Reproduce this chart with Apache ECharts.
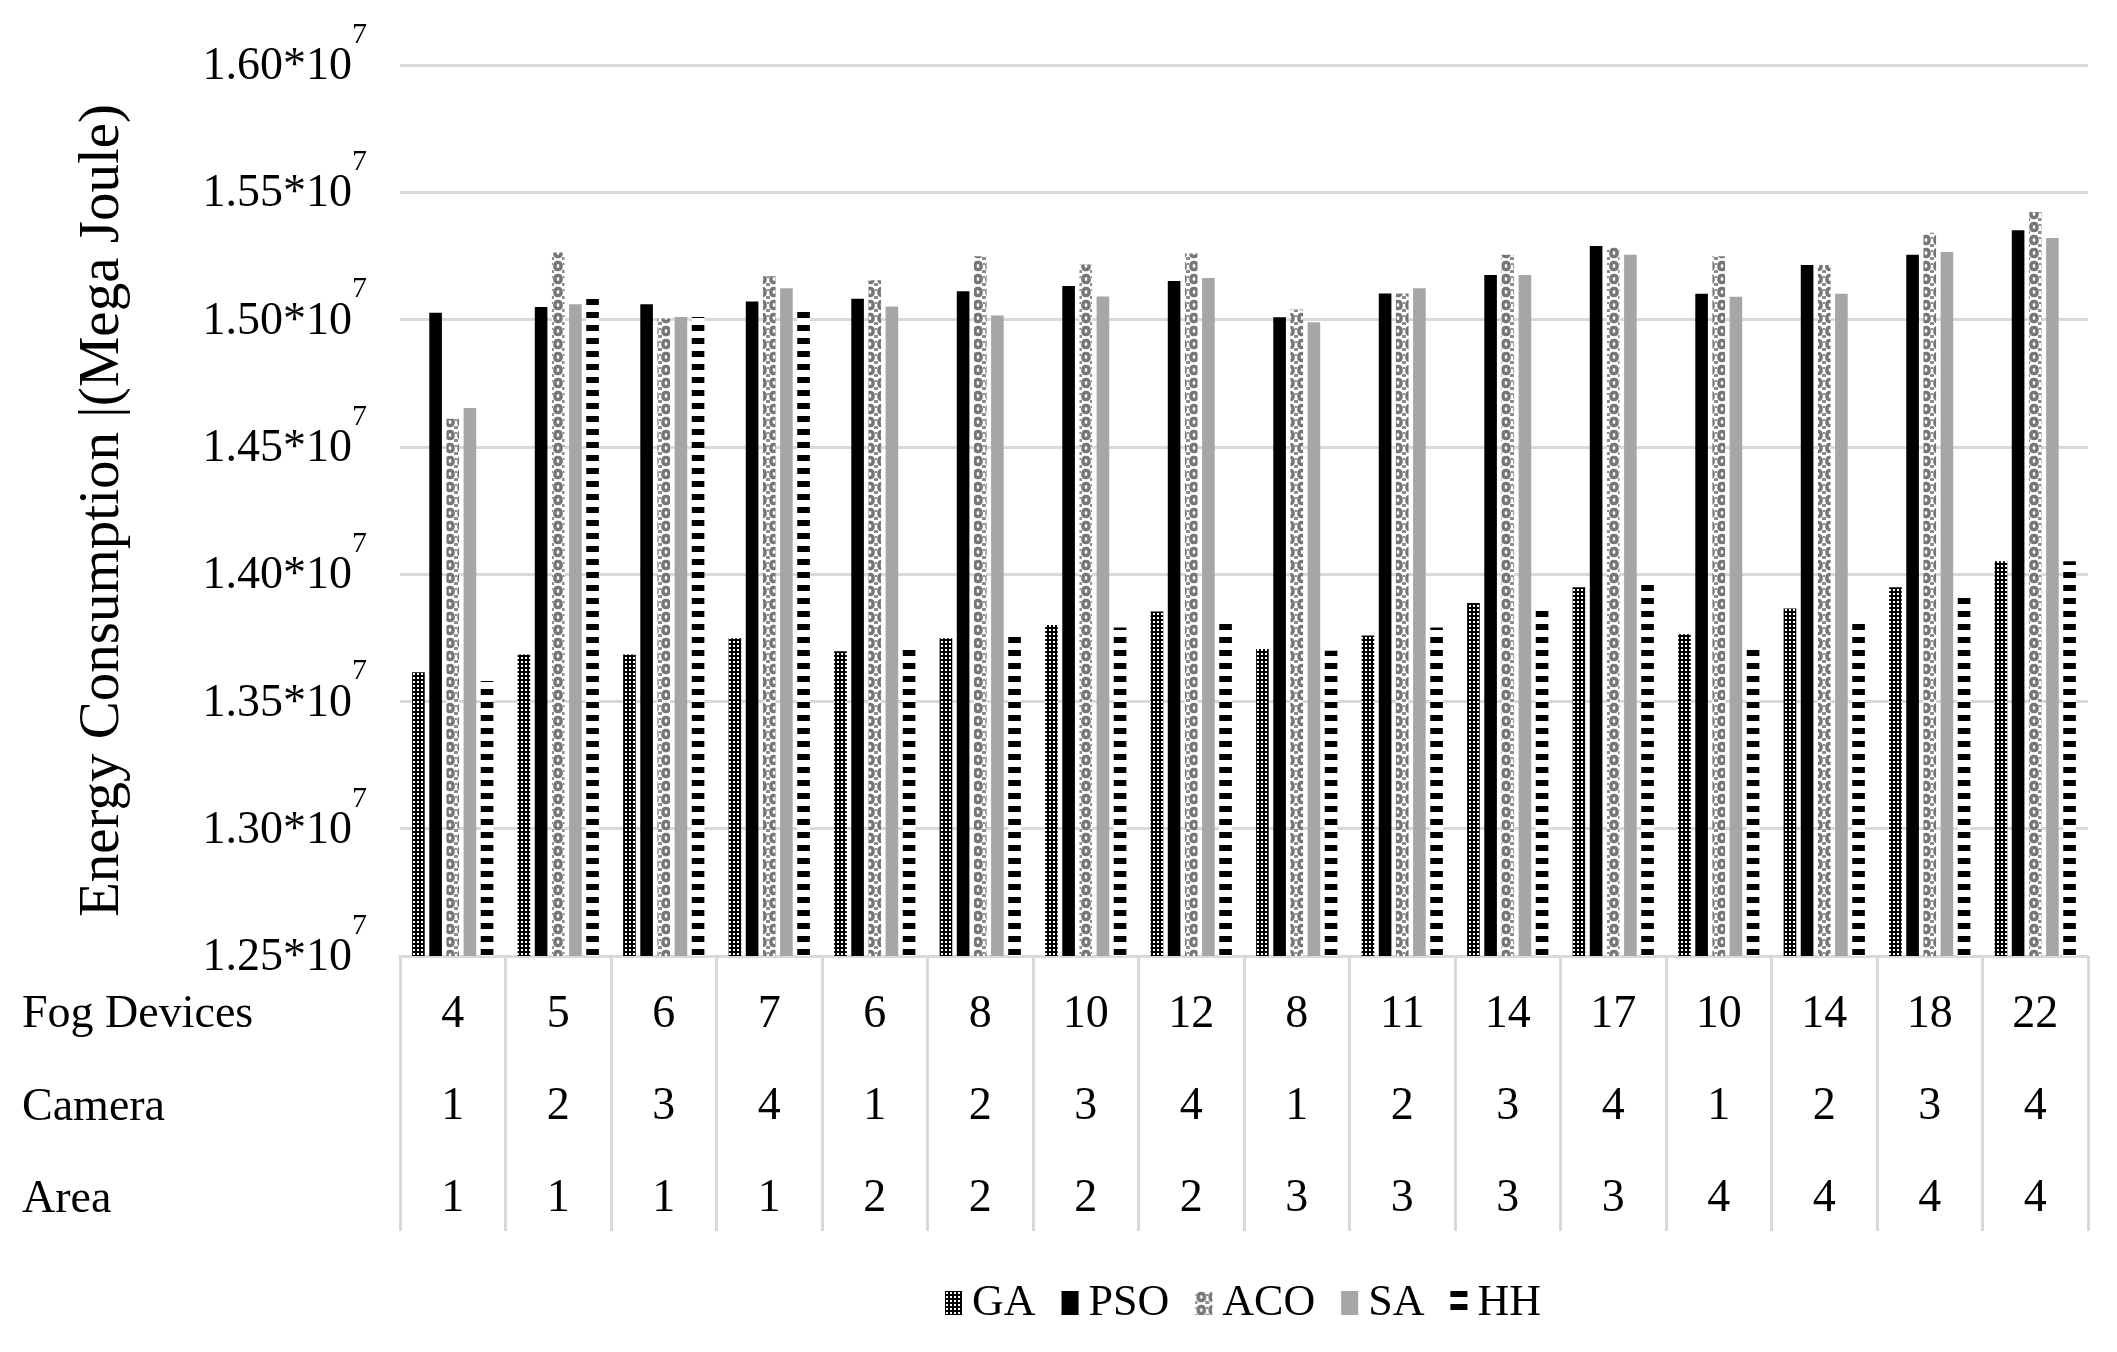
<!DOCTYPE html>
<html lang="en">

<head>
    <meta charset="UTF-8">
    <title>Energy Consumption</title>
    <script src="https://cdnjs.cloudflare.com/ajax/libs/echarts/6.0.0/echarts.min.js"></script>
    <style>
        body {
            margin: 0;
            background: #fff;
        }
    </style>
</head>

<body>
    <div id="main" style="width: 2117px;height:1352px;"></div>
    <script>
        // table under the x axis
        const fogDevices = [4, 5, 6, 7, 6, 8, 10, 12, 8, 11, 14, 17, 10, 14, 18, 22];
        const cameras = [1, 2, 3, 4, 1, 2, 3, 4, 1, 2, 3, 4, 1, 2, 3, 4];
        const areas = [1, 1, 1, 1, 2, 2, 2, 2, 3, 3, 3, 3, 4, 4, 4, 4];
        const rowNames = ["Fog Devices", "Camera", "Area"];

        // energy (Mega Joule)
        const gaData = [13615000, 13684000, 13684000, 13748000, 13697000, 13748000, 13800000, 13853000, 13706000, 13759000, 13887000, 13949000, 13764000, 13865000, 13949000, 14051000];
        const psoData = [15027000, 15049000, 15060000, 15071000, 15082000, 15111000, 15132000, 15152000, 15009000, 15102000, 15175000, 15289000, 15101000, 15214000, 15255000, 15351000];
        const acoData = [14610000, 15263000, 15004000, 15170000, 15154000, 15249000, 15216000, 15260000, 15040000, 15102000, 15255000, 15285000, 15249000, 15214000, 15341000, 15423000];
        const saData = [14653000, 15060000, 15010000, 15123000, 15051000, 15016000, 15091000, 15163000, 14989000, 15123000, 15175000, 15255000, 15090000, 15101000, 15265000, 15320000];
        const hhData = [13580000, 15102000, 15010000, 15053000, 13708000, 13760000, 13790000, 13813000, 13699000, 13790000, 13865000, 13970000, 13715000, 13817000, 13918000, 14051000];

        const yMin = 12500000;
        const yMax = 16000000;
        const yStep = 500000;

        const FONT = '"Liberation Serif", "Times New Roman", serif';

        function makePattern(w, h, draw) {
            const c = document.createElement('canvas');
            c.width = w;
            c.height = h;
            draw(c.getContext('2d'));
            return { image: c, repeat: 'repeat' };
        }

        const gaFill = makePattern(4, 4, ctx => {
            ctx.fillStyle = '#000';
            ctx.fillRect(0, 0, 4, 4);
            ctx.fillStyle = '#fff';
            ctx.fillRect(1, 1, 2, 2);
        });
        const acoFill = makePattern(12, 13, ctx => {
            ctx.fillStyle = '#fff';
            ctx.fillRect(0, 0, 12, 13);
            ctx.strokeStyle = '#767676';
            ctx.lineWidth = 3.5;
            ctx.beginPath();
            ctx.roundRect(3, 2.5, 6, 7, 2.5);
            ctx.stroke();
            ctx.fillStyle = '#8c8c8c';
            ctx.fillRect(0, 10, 2, 3);
            ctx.fillRect(10, 10, 2, 3);
            ctx.fillRect(0, 3, 1, 2);
            ctx.fillRect(11, 3, 1, 2);
        });
        const hhFill = makePattern(4, 13, ctx => {
            ctx.fillStyle = '#fff';
            ctx.fillRect(0, 0, 4, 13);
            ctx.fillStyle = '#000';
            ctx.fillRect(0, 0, 4, 6);
        });

        const chart = echarts.init(document.getElementById('main'));

        const categories = fogDevices.map((f, i) => f + '\n' + cameras[i] + '\n' + areas[i]);

        function barSeries(name, data, color) {
            return {
                name: name,
                type: 'bar',
                data: data,
                barGap: '36%',
                barCategoryGap: '23%',
                itemStyle: { color: color }
            };
        }

        const option = {
            animation: false,
            backgroundColor: '#fff',
            grid: { left: 400, right: 29, top: 65, bottom: 396 },
            legend: {
                left: 940,
                top: 1276,
                itemWidth: 17,
                itemHeight: 24,
                itemGap: 26,
                icon: 'rect',
                textStyle: { fontFamily: FONT, fontSize: 44, color: '#000', padding: [0, 0, 0, 5] },
                data: ['GA', 'PSO', 'ACO', 'SA', 'HH']
            },
            xAxis: {
                type: 'category',
                data: categories,
                axisLine: { show: true, lineStyle: { color: '#d9d9d9', width: 3 } },
                axisTick: { show: true, alignWithLabel: false, interval: 0, length: 275, lineStyle: { color: '#d9d9d9', width: 3 } },
                axisLabel: {
                    interval: 0,
                    margin: 13,
                    lineHeight: 92,
                    fontFamily: FONT,
                    fontSize: 46,
                    color: '#000'
                }
            },
            yAxis: {
                type: 'value',
                min: yMin,
                max: yMax,
                interval: yStep,
                name: 'Energy Consumption |(Mega Joule)',
                nameLocation: 'middle',
                nameGap: 268,
                nameTextStyle: { fontFamily: FONT, fontSize: 57, color: '#000' },
                axisLine: { show: false },
                axisTick: { show: false },
                splitLine: { lineStyle: { color: '#d9d9d9', width: 3 } },
                axisLabel: {
                    margin: 33,
                    padding: [0, 0, 20, 0],
                    formatter: v => '{n|' + (v / 1e7).toFixed(2) + '*10}{s|7}',
                    rich: {
                        n: { fontFamily: FONT, fontSize: 46, color: '#000', lineHeight: 70, verticalAlign: 'bottom' },
                        s: { fontFamily: FONT, fontSize: 30, color: '#000', lineHeight: 70, verticalAlign: 'top' }
                    }
                }
            },
            graphic: rowNames.map((t, i) => ({
                type: 'text',
                x: 22,
                y: 1015 + i * 92.5,
                style: { text: t, fontFamily: FONT, fontSize: 46, fill: '#000', verticalAlign: 'middle' }
            })),
            series: [
                barSeries('GA', gaData, gaFill),
                barSeries('PSO', psoData, '#000'),
                barSeries('ACO', acoData, acoFill),
                barSeries('SA', saData, '#a6a6a6'),
                barSeries('HH', hhData, hhFill)
            ]
        };

        chart.setOption(option);
    </script>
</body>

</html>
